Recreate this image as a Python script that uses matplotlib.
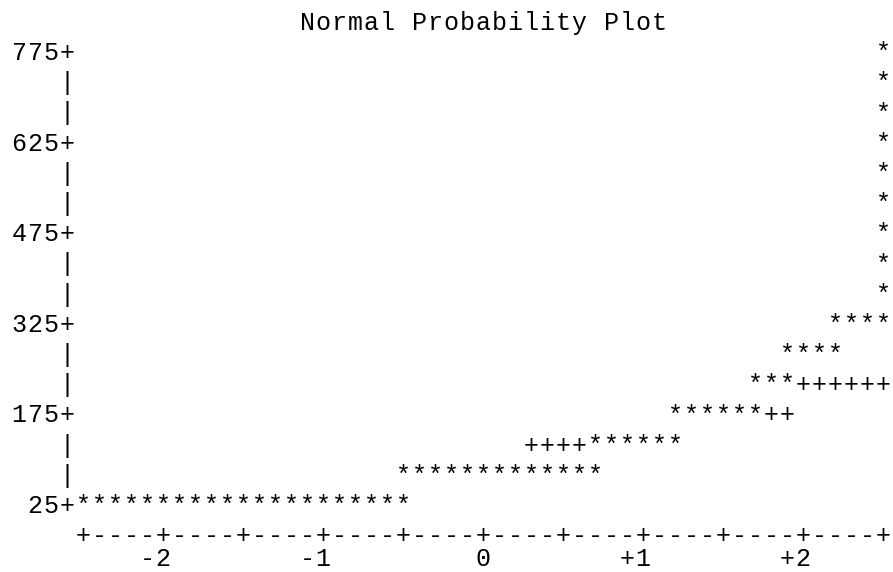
import matplotlib
matplotlib.use("Agg")
import matplotlib.pyplot as plt
import matplotlib.transforms as mtransforms

# normal probability plot, SAS line-printer style
title = "Normal Probability Plot"

# each row of the plot: value of the row and the normal quantiles of the '*' in it
row_values = [25, 75, 125, 175, 225, 275, 325, 375, 425, 475, 525, 575, 625, 675, 725, 775]
star_quantiles = [
    [-2.5, -2.4, -2.3, -2.2, -2.1, -2.0, -1.9, -1.8, -1.7, -1.6, -1.5,
     -1.4, -1.3, -1.2, -1.1, -1.0, -0.9, -0.8, -0.7, -0.6, -0.5],
    [-0.5, -0.4, -0.3, -0.2, -0.1, 0.0, 0.1, 0.2, 0.3, 0.4, 0.5, 0.6, 0.7],
    [0.7, 0.8, 0.9, 1.0, 1.1, 1.2],
    [1.2, 1.3, 1.4, 1.5, 1.6, 1.7],
    [1.7, 1.8, 1.9],
    [1.9, 2.0, 2.1, 2.2],
    [2.2, 2.3, 2.4, 2.5],
    [2.5], [2.5], [2.5], [2.5], [2.5], [2.5], [2.5], [2.5], [2.5],
]
# reference line '+' marks (only where not hidden by '*')
ref_quantiles = [0.3, 0.4, 0.5, 0.6, 1.8, 1.9, 2.0, 2.1, 2.2, 2.3, 2.4, 2.5]
ref_values = [125, 125, 125, 125, 175, 175, 225, 225, 225, 225, 225, 225]

y_ticks = [25, 175, 325, 475, 625, 775]
x_ticks = [-2, -1, 0, 1, 2]
x_tick_labels = ["-2", "-1", "0", "+1", "+2"]

FONT = "Liberation Mono"
FS = 18
COL = 0.1     # one character column in quantile units
ROW = 50      # one text row in value units

fig = plt.figure(figsize=(8.93, 5.72), dpi=100)
ax = fig.add_axes([83 / 893, (572 - 505) / 572, 800 / 893, 453 / 572])
ax.set_xlim(-2.5, 2.5)
ax.set_ylim(25, 775)
ax.axis("off")

# put the baseline a bit below the row centre, like printed text
tr = mtransforms.offset_copy(ax.transData, fig=fig, x=0, y=-8, units="dots")
# last row sits at the page edge, lift it so it stays inside
tr_low = mtransforms.offset_copy(ax.transData, fig=fig, x=0, y=-1, units="dots")


def put(x, y, s, trans=tr):
    ax.text(x, y, s, transform=trans, ha="center", va="baseline", fontsize=FS,
            family=FONT, color="black", clip_on=False)


def put_str(x_last, y, s, trans=tr):
    # one char per column, last char at x_last
    n = len(s)
    for i, ch in enumerate(s):
        if ch != " ":
            put(x_last - (n - 1 - i) * COL, y, ch, trans)


for v, qs in zip(row_values, star_quantiles):
    for q in qs:
        put(q, v, "*")

for q, v in zip(ref_quantiles, ref_values):
    put(q, v, "+")

# vertical axis
yaxis_x = -2.5 - COL
for v in range(25, 776, ROW):
    if v in y_ticks:
        put_str(yaxis_x, v, str(v) + "+")
    else:
        put(yaxis_x, v, "|")

# horizontal axis
axis_y = 25 - ROW
for k in range(51):
    put(-2.5 + k * COL, axis_y, "+" if k % 5 == 0 else "-")
for t, lab in zip(x_ticks, x_tick_labels):
    put_str(t, axis_y - ROW, lab, trans=tr_low)

# title centred over the 51 columns
put_str(-2.5 + (25 + 11) * COL, 775 + ROW, title)

fig.savefig("out.png", dpi=100)
